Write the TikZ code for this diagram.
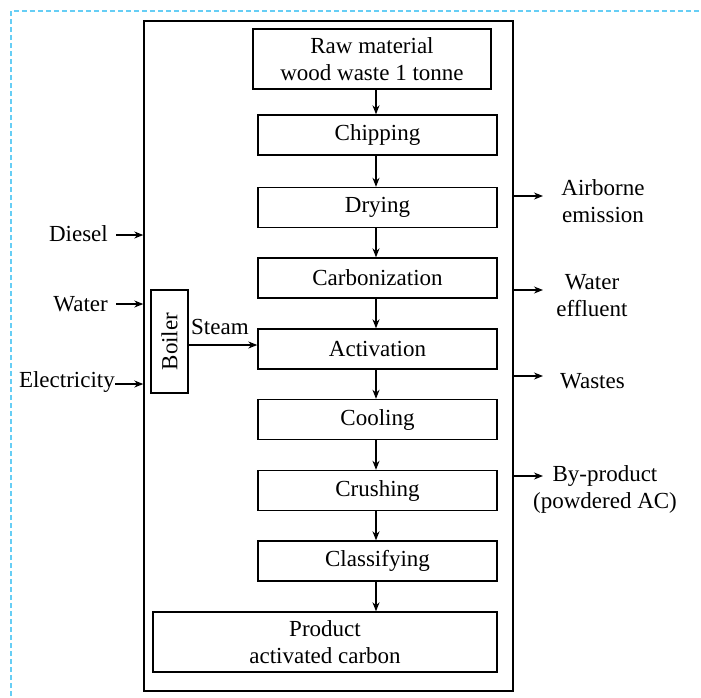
\documentclass[tikz,border=0pt]{standalone}
\usepackage{fontspec}
\setmainfont{Liberation Serif}
\usetikzlibrary{arrows.meta}
\begin{document}
\begin{tikzpicture}[x=1pt,y=-1pt,
  every node/.style={font=\fontsize{23}{27}\selectfont, inner sep=0pt},
  stepbox/.style={draw, line width=1.4pt, minimum width=239pt, minimum height=40pt, align=center},
  arr/.style={line width=1.2pt, -{Stealth[length=9pt,width=7pt]}},
  lbl/.style={align=center}]
\useasboundingbox (0,0) rectangle (701,697);
\begin{scope}
\clip (0,0) rectangle (701,697);
\draw[cyan!60, line width=1.3pt, dash pattern=on 5pt off 3pt] (11,760) -- (11,11) -- (760,11);
\end{scope}
\node[draw, line width=1.4pt, minimum width=369pt, minimum height=670pt] (outer) at (328.5,356) {};
\node[stepbox, minimum width=238pt, minimum height=60pt] (raw) at (372,59) {Raw material\\wood waste 1 tonne};
\node[stepbox] (chip) at (377.5,135) {Chipping};
\node[stepbox] (dry) at (377.5,207.5) {Drying};
\node[stepbox] (carb) at (377.5,278) {Carbonization};
\node[stepbox] (act) at (377.5,349) {Activation};
\node[stepbox] (cool) at (377.5,419.5) {Cooling};
\node[stepbox] (crush) at (377.5,490.5) {Crushing};
\node[stepbox] (class) at (377.5,561) {Classifying};
\node[stepbox, minimum width=344pt, minimum height=60pt] (prod) at (325,642) {Product\\activated carbon};
\node[draw, line width=1.4pt, minimum width=37pt, minimum height=103pt] (boiler) at (169.5,341.5) {};
\node[rotate=90] (boilertxt) at (boiler.center) {Boiler};
\node[anchor=south west] (steam) at (191,335) {Steam};
\draw[arr] (boiler.east |- 0,345) -- (act.west |- 0,345);
\foreach \a/\b in {raw/chip,chip/dry,dry/carb,carb/act,act/cool,cool/crush,crush/class,class/prod}{
  \draw[arr] (\a.south -| 376,0) -- (\b.north -| 376,0);
}
% inputs
\node[anchor=east] (diesel) at (108,234) {Diesel};
\node[anchor=east] (water) at (108,304) {Water};
\node[anchor=east] (elec) at (115,382) {Electricity};
\coordinate (d1) at (116,235);
\coordinate (w1) at (116,304);
\coordinate (e1) at (115,384);
\draw[arr] (d1) -- (outer.west |- d1);
\draw[arr] (w1) -- (outer.west |- w1);
\draw[arr] (e1) -- (outer.west |- e1);
% outputs
\coordinate (o1) at (543,196);
\coordinate (o2) at (543,290);
\coordinate (o3) at (543,376);
\coordinate (o4) at (543,476);
\draw[arr] (outer.east |- o1) -- (o1);
\draw[arr] (outer.east |- o2) -- (o2);
\draw[arr] (outer.east |- o3) -- (o3);
\draw[arr] (outer.east |- o4) -- (o4);
\node[lbl] (air) at (603,201) {Airborne\\emission};
\node[lbl] (weff) at (592,296) {Water\\effluent};
\node[anchor=west] (waste) at (560,381) {Wastes};
\node[lbl] (byp) at (605,489) {By-product\\(powdered AC)};
\end{tikzpicture}
\end{document}
